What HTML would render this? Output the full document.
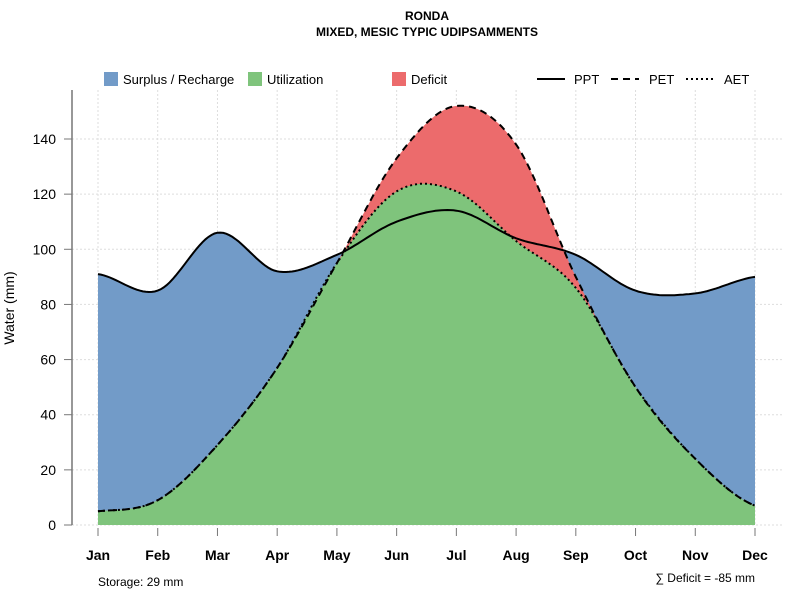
<!DOCTYPE html>
<html><head><meta charset="utf-8"><style>
body{margin:0;background:#fff;font-family:"Liberation Sans",sans-serif}
svg text{font-family:"Liberation Sans",sans-serif}
</style></head><body>
<svg width="800" height="600">
<g id="grid"></g>
<g id="areas"></g>
<g id="lines"></g>
<g id="axes"></g>
<text x="427" y="20" text-anchor="middle" font-size="12" font-weight="bold">RONDA</text>
<text x="427" y="36" text-anchor="middle" font-size="12" font-weight="bold">MIXED, MESIC TYPIC UDIPSAMMENTS</text>
<text transform="translate(14,308) rotate(-90)" text-anchor="middle" font-size="14">Water (mm)</text>
<text x="98" y="586" font-size="12">Storage: 29 mm</text>
<text x="755" y="582" text-anchor="end" font-size="12">∑ Deficit = -85 mm</text>
<g font-size="13">
<rect x="104" y="72" width="14" height="14" fill="#729bc8"/>
<text x="123" y="84">Surplus / Recharge</text>
<rect x="248" y="72" width="14" height="14" fill="#7fc47c"/>
<text x="267" y="84">Utilization</text>
<rect x="392" y="72" width="14" height="14" fill="#ec6b6c"/>
<text x="411" y="84">Deficit</text>
<line x1="537" y1="79" x2="565" y2="79" stroke="#000" stroke-width="2"/>
<text x="574" y="84">PPT</text>
<line x1="611" y1="79" x2="639" y2="79" stroke="#000" stroke-width="2" stroke-dasharray="7,5"/>
<text x="649" y="84">PET</text>
<line x1="686" y1="79" x2="714" y2="79" stroke="#000" stroke-width="2" stroke-dasharray="2,3"/>
<text x="724" y="84">AET</text>
</g>
</svg>
<script>
const months=["Jan","Feb","Mar","Apr","May","Jun","Jul","Aug","Sep","Oct","Nov","Dec"];
const ppt=[91,85,106,92,98,110,114,104,98,85,84,90];
const pet=[5,9,29,57,95,133,152,138,90,50,24,7];
const aet=[5,9,29,57,95,121,121,103,86,50,24,7];
const yTicks=[0,20,40,60,80,100,120,140];
const NS="http://www.w3.org/2000/svg";
const x=i=>98+i*(755-98)/11;
const y=v=>525-v*386/140;
function mk(tag,attrs,parent){const e=document.createElementNS(NS,tag);for(const k in attrs)e.setAttribute(k,attrs[k]);parent.appendChild(e);return e;}
function spline(vals){const pts=[];const n=vals.length;for(let i=0;i<n-1;i++){const p0=vals[Math.max(i-1,0)],p1=vals[i],p2=vals[i+1],p3=vals[Math.min(i+2,n-1)];for(let s=0;s<20;s++){const t=s/20,t2=t*t,t3=t2*t;const v=0.5*((2*p1)+(-p0+p2)*t+(2*p0-5*p1+4*p2-p3)*t2+(-p0+3*p1-3*p2+p3)*t3);pts.push([x(i+t),y(v)]);}}pts.push([x(n-1),y(vals[n-1])]);return pts;}
const line=p=>"M"+p.map(q=>q[0].toFixed(1)+","+q[1].toFixed(1)).join("L");
const area=p=>line(p)+"L"+x(11)+","+y(0)+"L"+x(0)+","+y(0)+"Z";
const g=document.getElementById("grid"),a=document.getElementById("areas"),l=document.getElementById("lines"),ax=document.getElementById("axes");
yTicks.forEach(v=>{const e=mk("line",{x1:72,x2:782,y1:y(v),y2:y(v),stroke:"#ddd","stroke-dasharray":"2,2"},g);});
months.forEach((m,i)=>{const e=mk("line",{x1:x(i),x2:x(i),y1:90,y2:525,stroke:"#ddd","stroke-dasharray":"2,2"},g);});
const sP=spline(ppt),sE=spline(pet),sA=spline(aet);
let e;
e=mk("path",{d:area(sP),fill:"#729bc8"},a);
e=mk("path",{d:area(sE),fill:"#ec6b6c"},a);
e=mk("path",{d:area(sA),fill:"#7fc47c"},a);
e=mk("path",{d:line(sP),fill:"none",stroke:"#000","stroke-width":2},l);
e=mk("path",{d:line(sE),fill:"none",stroke:"#000","stroke-width":2,"stroke-dasharray":"7,5"},l);
e=mk("path",{d:line(sA),fill:"none",stroke:"#000","stroke-width":2,"stroke-dasharray":"2,3"},l);
e=mk("line",{x1:72,x2:72,y1:90,y2:525,stroke:"#777","stroke-width":1.5},ax);
yTicks.forEach(v=>{let t=mk("line",{x1:64,x2:72,y1:y(v),y2:y(v),stroke:"#777"},ax);
t=mk("text",{x:56,y:y(v)+5,"text-anchor":"end","font-size":14},ax);t.textContent=v;});
months.forEach((m,i)=>{let t=mk("line",{x1:x(i),x2:x(i),y1:528,y2:536,stroke:"#777"},ax);
t=mk("text",{x:x(i),y:560,"text-anchor":"middle","font-size":14,"font-weight":"bold"},ax);t.textContent=m;});
</script>
</body></html>
